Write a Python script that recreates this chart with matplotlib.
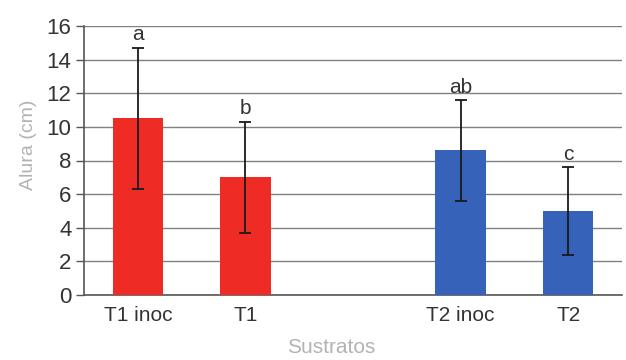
import matplotlib
matplotlib.use("Agg")
import matplotlib.pyplot as plt
from matplotlib import font_manager

# Treatment data: mean plant height and standard deviation
categories = ["T1 inoc", "T1", "T2 inoc", "T2"]
positions = [0, 1, 3, 4]
heights = [10.5, 7.0, 8.6, 5.0]
errors = [4.2, 3.3, 3.0, 2.6]
letters = ["a", "b", "ab", "c"]
colors = ["#EE2C25", "#EE2C25", "#3762BA", "#3762BA"]

names = {f.name for f in font_manager.fontManager.ttflist}
font = "Liberation Sans Narrow" if "Liberation Sans Narrow" in names else "Liberation Sans"
plt.rcParams["font.family"] = [font, "DejaVu Sans"]

fig = plt.figure(figsize=(6.26, 3.6), dpi=100)
ax = fig.add_axes([84 / 626, (360 - 295) / 360, (622 - 84) / 626, (295 - 26) / 360])

ax.bar(positions, heights, width=0.47, color=colors, zorder=3)
ax.errorbar(positions, heights, yerr=errors, fmt="none", ecolor="#1a1a1a",
            elinewidth=1.3, capsize=4, capthick=1.3, zorder=4)

for x, h, e, t in zip(positions, heights, errors, letters):
    ax.text(x, h + e + 0.2, t, ha="center", va="bottom", fontsize=15, color="#333333")

ax.set_xlim(-0.5, 4.5)
ax.set_ylim(0, 16)
ax.set_yticks(range(0, 17, 2))
ax.set_xticks(positions)
ax.set_xticklabels(categories)
ax.yaxis.grid(True, color="#808080", linewidth=1.0, zorder=0)
ax.set_axisbelow(True)

for s in ["top", "right"]:
    ax.spines[s].set_visible(False)
for s in ["left", "bottom"]:
    ax.spines[s].set_color("#555555")
    ax.spines[s].set_linewidth(1.2)

ax.tick_params(axis="y", length=6, width=1.0, color="#555555", labelsize=16,
               labelcolor="#333333", pad=3)
ax.tick_params(axis="x", length=0, labelsize=15, labelcolor="#333333", pad=8)

ax.set_ylabel("Alura (cm)", fontsize=14, color="#b3b3b3")
ax.yaxis.set_label_coords(-0.104, 0.56)
ax.set_xlabel("Sustratos", fontsize=15, color="#b3b3b3")
ax.xaxis.set_label_coords(0.459, -0.197)
ax.xaxis.label.set_va("center")
ax.yaxis.label.set_va("center")

fig.savefig("out.png", dpi=100, facecolor="white")
